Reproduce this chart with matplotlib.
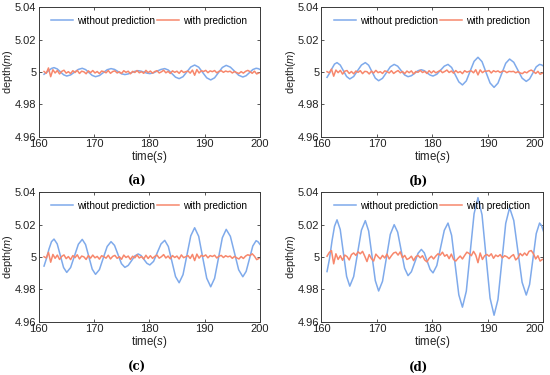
import numpy as np
import matplotlib
matplotlib.use("Agg")
import matplotlib.pyplot as plt

plt.rcParams.update({'font.family': 'Liberation Sans'})
plt.rcParams.update({'mathtext.fontset': 'custom'})
plt.rcParams.update({'mathtext.rm': 'Liberation Sans'})
plt.rcParams.update({'mathtext.it': 'Liberation Sans:italic'})

# shared time stamps of the blue curves (peaks/troughs and points between them)
t_blue = [161.0, 161.45, 161.9, 162.35,
          162.8, 163.38, 163.95, 164.53,
          165.1, 165.8, 166.5, 167.2,
          167.9, 168.5, 169.1, 169.7,
          170.3, 171.0, 171.7, 172.4,
          173.1, 173.73, 174.35, 174.98,
          175.6, 176.2, 176.8, 177.4,
          178.0, 178.53, 179.05, 179.58,
          180.1, 180.78, 181.45, 182.13,
          182.8, 183.45, 184.1, 184.75,
          185.4, 186.1, 186.8, 187.5,
          188.2, 188.93, 189.65, 190.38,
          191.1, 191.8, 192.5, 193.2,
          193.9, 194.65, 195.4, 196.15,
          196.9, 197.5, 198.1, 198.7,
          199.3, 199.65, 200.0]

blue_a = [4.9986, 4.9997, 5.0010, 5.0022,
          5.0027, 5.0019, 5.0001, 4.9983,
          4.9975, 4.9982, 4.9999, 5.0016,
          5.0023, 5.0015, 4.9997, 4.9979,
          4.9971, 4.9978, 4.9996, 5.0014,
          5.0021, 5.0016, 5.0003, 4.9989,
          4.9984, 4.9988, 4.9996, 5.0004,
          5.0008, 5.0005, 4.9999, 4.9993,
          4.9990, 4.9995, 5.0006, 5.0016,
          5.0021, 5.0012, 4.9990, 4.9968,
          4.9959, 4.9971, 5.0001, 5.0031,
          5.0043, 5.0030, 4.9997, 4.9964,
          4.9951, 4.9964, 4.9996, 5.0028,
          5.0041, 5.0030, 5.0005, 4.9980,
          4.9969, 4.9977, 4.9996, 5.0015,
          5.0023, 5.0021, 5.0016]

blue_b = [4.9967, 4.9992, 5.0022, 5.0049,
          5.0058, 5.0043, 5.0008, 4.9972,
          4.9957, 4.9972, 5.0008, 5.0043,
          5.0058, 5.0042, 5.0002, 4.9962,
          4.9946, 4.9961, 4.9996, 5.0032,
          5.0047, 5.0036, 5.0009, 4.9982,
          4.9971, 4.9977, 4.9992, 5.0008,
          5.0014, 5.0008, 4.9994, 4.9981,
          4.9975, 4.9986, 5.0011, 5.0036,
          5.0047, 5.0028, 4.9983, 4.9939,
          4.9920, 4.9945, 5.0006, 5.0066,
          5.0091, 5.0064, 4.9998, 4.9932,
          4.9905, 4.9931, 4.9992, 5.0054,
          5.0080, 5.0060, 5.0011, 4.9962,
          4.9942, 4.9957, 4.9994, 5.0032,
          5.0047, 5.0044, 5.0037]

blue_c = [4.9944, 4.9992, 5.0050, 5.0095,
          5.0111, 5.0081, 5.0008, 4.9935,
          4.9905, 4.9935, 5.0007, 5.0079,
          5.0109, 5.0077, 5.0001, 4.9925,
          4.9893, 4.9922, 4.9994, 5.0065,
          5.0095, 5.0072, 5.0016, 4.9959,
          4.9936, 4.9948, 4.9977, 5.0007,
          5.0019, 5.0009, 4.9985, 4.9961,
          4.9951, 4.9973, 5.0027, 5.0081,
          5.0103, 5.0065, 4.9972, 4.9879,
          4.9841, 4.9891, 5.0011, 5.0131,
          5.0181, 5.0128, 4.9998, 4.9869,
          4.9816, 4.9868, 4.9993, 5.0119,
          5.0171, 5.0128, 5.0025, 4.9921,
          4.9878, 4.9911, 4.9989, 5.0068,
          5.0101, 5.0094, 5.0078]

blue_d = [4.9910, 4.9990, 5.0100, 5.0190,
          5.0230, 5.0170, 5.0025, 4.9880,
          4.9820, 4.9879, 5.0023, 5.0166,
          5.0225, 5.0161, 5.0008, 4.9854,
          4.9790, 4.9850, 4.9995, 5.0140,
          5.0200, 5.0154, 5.0043, 4.9931,
          4.9885, 4.9909, 4.9966, 5.0023,
          5.0047, 5.0026, 4.9974, 4.9923,
          4.9902, 4.9947, 5.0056, 5.0165,
          5.0210, 5.0134, 4.9950, 4.9766,
          4.9690, 4.9789, 5.0029, 5.0268,
          5.0367, 5.0261, 5.0004, 4.9746,
          4.9640, 4.9737, 4.9972, 5.0208,
          5.0305, 5.0226, 5.0035, 4.9844,
          4.9765, 4.9830, 4.9987, 5.0145,
          5.0210, 5.0195, 5.0160]

# red curves: one reading every 0.4 s from 161.0 to 199.8
t_red = np.linspace(161.0, 199.8, 98)

red_a = [5.0003, 4.9992, 5.0025, 4.9971, 5.0014, 4.9994, 5.0009, 4.9988, 5.0004, 5.0011, 4.9993, 5.0002, 4.9990, 5.0008,
         4.9997, 5.0010, 4.9991, 5.0005, 5.0001, 4.9989, 5.0007, 4.9996, 5.0009, 4.9994, 5.0003, 4.9990, 5.0006, 5.0002,
         4.9995, 5.0009, 4.9992, 5.0003, 5.0007, 4.9994, 5.0001, 4.9991, 5.0008, 4.9998, 5.0005, 4.9989, 5.0004, 4.9997,
         5.0009, 4.9995, 5.0002, 4.9992, 5.0010, 4.9996, 5.0006, 4.9993, 5.0003, 5.0008, 4.9994, 5.0001, 5.0011, 4.9995,
         5.0004, 4.9991, 5.0007, 4.9998, 5.0005, 4.9992, 5.0009, 4.9997, 5.0002, 5.0006, 4.9993, 5.0012, 4.9980, 5.0015,
         4.9994, 5.0008, 5.0003, 5.0010, 4.9996, 5.0007, 5.0002, 5.0009, 4.9995, 5.0004, 5.0008, 4.9998, 5.0006, 5.0001,
         5.0005, 4.9994, 5.0003, 4.9996, 4.9991, 5.0002, 4.9993, 5.0004, 5.0010, 5.0002, 4.9992, 5.0005, 4.9988, 4.9994]

red_b = [5.0002, 4.9995, 5.0018, 4.9974, 5.0012, 4.9996, 5.0010, 4.9987, 5.0005, 5.0009, 4.9991, 5.0003, 4.9989, 5.0006,
         4.9998, 5.0008, 4.9990, 5.0004, 5.0002, 4.9988, 5.0005, 4.9994, 5.0010, 4.9996, 5.0002, 4.9991, 5.0007, 5.0003,
         4.9994, 5.0008, 4.9991, 5.0001, 5.0009, 4.9995, 5.0003, 4.9990, 5.0006, 4.9996, 5.0007, 4.9988, 5.0003, 4.9998,
         5.0010, 4.9997, 5.0004, 4.9991, 5.0008, 4.9994, 5.0007, 4.9995, 5.0002, 5.0010, 4.9996, 5.0003, 5.0012, 4.9997,
         5.0006, 4.9993, 5.0009, 4.9996, 5.0003, 4.9990, 5.0008, 4.9999, 5.0004, 5.0007, 4.9995, 5.0014, 4.9982, 5.0013,
         4.9996, 5.0006, 5.0005, 5.0009, 4.9994, 5.0008, 5.0001, 5.0007, 4.9997, 5.0005, 5.0006, 4.9996, 5.0004, 5.0002,
         5.0004, 4.9995, 5.0002, 4.9994, 4.9990, 5.0001, 4.9995, 5.0006, 5.0012, 5.0003, 4.9991, 5.0004, 4.9986, 4.9993]

red_c = [5.0002, 4.9994, 5.0029, 4.9968, 5.0016, 4.9992, 5.0012, 4.9985, 5.0004, 5.0013, 4.9990, 5.0003, 4.9984, 5.0009,
         4.9996, 5.0014, 4.9988, 5.0006, 5.0001, 4.9985, 5.0009, 4.9993, 5.0012, 4.9995, 5.0004, 4.9987, 5.0008, 5.0002,
         4.9993, 5.0011, 4.9988, 5.0004, 5.0010, 4.9992, 5.0002, 4.9986, 5.0012, 4.9997, 5.0006, 4.9985, 5.0005, 4.9995,
         5.0013, 4.9994, 5.0003, 4.9988, 5.0011, 4.9991, 5.0008, 4.9992, 5.0004, 5.0012, 4.9993, 5.0002, 5.0015, 4.9994,
         5.0006, 4.9989, 5.0009, 4.9997, 5.0006, 4.9988, 5.0013, 4.9996, 5.0002, 5.0009, 4.9991, 5.0016, 4.9978, 5.0018,
         4.9993, 5.0010, 5.0004, 5.0013, 4.9995, 5.0009, 5.0003, 5.0011, 4.9994, 5.0005, 5.0010, 4.9997, 5.0008, 5.0001,
         5.0006, 4.9992, 5.0004, 4.9995, 4.9988, 5.0003, 4.9991, 5.0006, 5.0014, 5.0009, 5.0020, 5.0005, 4.9984, 4.9991]

red_d = [5.0005, 5.0028, 5.0040, 4.9958, 5.0020, 4.9985, 5.0008, 4.9980, 5.0012, 5.0003, 4.9982, 5.0015, 5.0025, 5.0010,
         5.0032, 5.0020, 5.0035, 5.0005, 4.9972, 5.0015, 4.9990, 4.9975, 5.0018, 5.0002, 4.9988, 5.0010, 4.9994, 5.0018,
         4.9988, 5.0008, 5.0025, 5.0030, 5.0012, 5.0032, 4.9995, 5.0010, 4.9985, 4.9992, 5.0005, 4.9978, 5.0002, 5.0010,
         4.9995, 5.0008, 4.9982, 4.9970, 4.9992, 5.0005, 4.9988, 5.0006, 5.0020, 5.0012, 5.0030, 5.0005, 5.0015, 4.9990,
         5.0018, 4.9985, 4.9975, 4.9992, 5.0006, 4.9988, 5.0010, 5.0030, 5.0022, 5.0008, 5.0035, 5.0012, 4.9965, 5.0025,
         4.9985, 5.0008, 5.0016, 5.0005, 5.0020, 4.9992, 5.0012, 5.0003, 5.0015, 4.9995, 5.0008, 5.0002, 4.9990, 5.0005,
         5.0015, 4.9982, 4.9995, 5.0022, 5.0008, 5.0025, 5.0010, 5.0035, 5.0040, 5.0020, 4.9988, 5.0008, 4.9975, 4.9985]

xticks = [160, 170, 180, 190, 200]
yticks = [4.96, 4.98, 5.0, 5.02, 5.04]
yticklabels = ["4.96", "4.98", "5", "5.02", "5.04"]
captions = ["a", "b", "c", "d"]

blue_col = "#7faaeb"
red_col = "#f7876c"
axcol = "#3a3a3a"

fig = plt.figure(figsize=(5.5, 3.75), dpi=100)
boxes = [[0.070, 0.6355, 0.4027, 0.345],
         [0.5845, 0.6355, 0.4036, 0.345],
         [0.070, 0.1421, 0.4027, 0.345],
         [0.5845, 0.1421, 0.4036, 0.345]]
cap_pos = [(0.249, 0.515), (0.760, 0.515), (0.249, 0.021), (0.760, 0.021)]

blues = [blue_a, blue_b, blue_c, blue_d]
reds = [red_a, red_b, red_c, red_d]

for i in range(4):
    ax = fig.add_axes(boxes[i])
    ax.plot(t_blue, blues[i], color=blue_col, lw=1.1, label="without prediction")
    ax.plot(t_red, reds[i], color=red_col, lw=1.1, label="with prediction")
    ax.set_xlim(160, 200)
    ax.set_ylim(4.96, 5.04)
    ax.set_xticks(xticks)
    ax.set_xticklabels([str(x) for x in xticks])
    ax.set_yticks(yticks)
    ax.set_yticklabels(yticklabels)
    ax.tick_params(direction="in", length=2.5, width=0.6, labelsize=8,
                   top=True, right=True, pad=1.5, colors=axcol, labelcolor="#222222")
    if i % 2 == 1:
        # right column: last label sits inside the figure edge
        ax.get_xticklabels()[-1].set_horizontalalignment("right")
    for s in ax.spines.values():
        s.set_color(axcol)
        s.set_linewidth(0.7)
    ax.set_xlabel("time($s$)", fontsize=8.3, labelpad=0.5, color="#222222")
    ax.set_ylabel("depth($m$)", fontsize=7.8, color="#222222")
    ax.yaxis.set_label_coords(-0.108, 0.5)
    ax.legend(loc="upper center", ncol=2, frameon=False, fontsize=7.2,
              handlelength=2.2, handletextpad=0.4, columnspacing=0.2,
              borderaxespad=0.45)
    fig.text(cap_pos[i][0], cap_pos[i][1], "(" + captions[i] + ")",
             ha="center", va="center", fontsize=8.5, fontweight="bold",
             family="DejaVu Serif")

plt.savefig("out.png", dpi=100)
